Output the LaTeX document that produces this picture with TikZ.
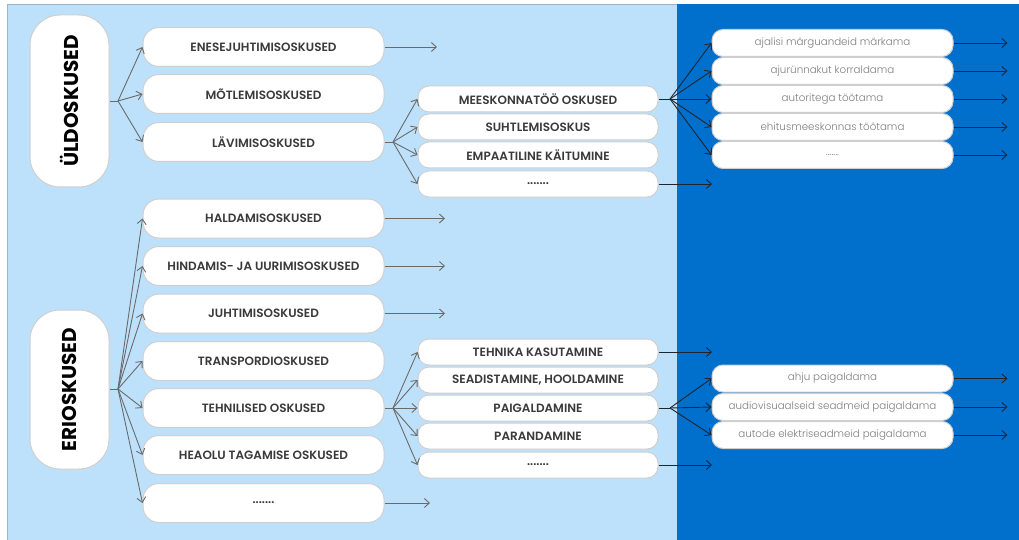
\documentclass[tikz,border=0pt]{standalone}
\usepackage{fontspec}
\usetikzlibrary{arrows.meta}
\setmainfont{Poppins}
\IfFontExistsTF{Poppins SemiBold}{\newfontfamily\capfont{Poppins SemiBold}\newcommand\capweight{}}{\newfontfamily\capfont{Poppins}\newcommand\capweight{\bfseries}}
\IfFontExistsTF{Poppins Light}{\newfontfamily\lightfont{Poppins Light}}{\newfontfamily\lightfont{Poppins}}
\newfontfamily\pillfont{Poppins}
\definecolor{lightpanel}{HTML}{BEE1FB}
\definecolor{darkpanel}{HTML}{0070CC}
\definecolor{paneledge}{HTML}{9FB4C6}
\definecolor{boxedge}{HTML}{CFCFCF}
\definecolor{captext}{HTML}{3A3A3A}
\definecolor{lighttext}{HTML}{7E7E7E}
\definecolor{arrgrey}{HTML}{6A6A6A}
\definecolor{arrdark}{HTML}{1E2430}
\tikzset{
  x=1pt, y=-1pt,
  pill/.style={draw=boxedge, line width=1pt, fill=white, rounded corners=30pt,
    minimum width=79pt, inner sep=0pt},
  bigbox/.style={draw=boxedge, line width=1pt, fill=white, rounded corners=16pt,
    minimum width=241pt, minimum height=39pt, inner sep=0pt,
    font=\capfont\capweight\fontsize{12}{14}\selectfont, text=captext},
  midbox/.style={draw=boxedge, line width=1pt, fill=white, rounded corners=11pt,
    minimum width=240pt, minimum height=26pt, inner sep=0pt,
    font=\capfont\capweight\fontsize{12}{14}\selectfont, text=captext},
  smallbox/.style={draw=boxedge, line width=1pt, fill=white, rounded corners=11pt,
    minimum width=241pt, minimum height=27pt, inner sep=0pt,
    font=\lightfont\fontsize{10.3}{12}\selectfont, text=lighttext},
  arr/.style={-{Straight Barb[length=5pt,width=9pt]}, line width=0.9pt, draw=arrgrey},
  arrd/.style={-{Straight Barb[length=5pt,width=9pt]}, line width=0.9pt, draw=arrdark},
  ln/.style={line width=0.9pt, draw=arrgrey},
  lnd/.style={line width=0.9pt, draw=arrdark},
}
\begin{document}
\begin{tikzpicture}
\useasboundingbox (0,0) rectangle (1019,540);
\fill[white] (0,0) rectangle (1019,540);
\draw[fill=lightpanel, draw=paneledge, line width=1pt] (7,5) rectangle (678,545);
\fill[darkpanel] (677,4) rectangle (1022,545);

% pills
\node[pill, minimum height=172pt] (ud) at (69.5,101) {};
\node[rotate=90, font=\pillfont\bfseries\fontsize{20}{22}\selectfont, text=black] at (ud.center) {ÜLDOSKUSED};
\node[pill, minimum height=159pt] (er) at (69.5,389.5) {};
\node[rotate=90, font=\pillfont\bfseries\fontsize{20}{22}\selectfont, text=black] at (er.center) {ERIOSKUSED};

% column 1
\node[bigbox] (a1) at (263.5,47) {ENESEJUHTIMISOSKUSED};
\node[bigbox] (a2) at (263.5,94) {MÕTLEMISOSKUSED};
\node[bigbox] (a3) at (263.5,142) {LÄVIMISOSKUSED};
\node[bigbox] (b1) at (263.5,218.5) {HALDAMISOSKUSED};
\node[bigbox] (b2) at (263.5,266) {HINDAMIS- JA UURIMISOSKUSED};
\node[bigbox] (b3) at (263.5,313.5) {JUHTIMISOSKUSED};
\node[bigbox] (b4) at (263.5,361) {TRANSPORDIOSKUSED};
\node[bigbox] (b5) at (263.5,408) {TEHNILISED OSKUSED};
\node[bigbox] (b6) at (263.5,455) {HEAOLU TAGAMISE OSKUSED};
\node[bigbox] (b7) at (263.5,503) {.......};

% column 2 upper
\node[midbox] (c1) at (538,99) {MEESKONNATÖÖ OSKUSED};
\node[midbox] (c2) at (538,127) {SUHTLEMISOSKUS};
\node[midbox] (c3) at (538,155) {EMPAATILINE KÄITUMINE};
\node[midbox] (c4) at (538,184) {.......};
% column 2 lower
\node[midbox] (d1) at (538,352) {TEHNIKA KASUTAMINE};
\node[midbox] (d2) at (538,380) {SEADISTAMINE, HOOLDAMINE};
\node[midbox] (d3) at (538,408) {PAIGALDAMINE};
\node[midbox] (d4) at (538,436) {PARANDAMINE};
\node[midbox] (d5) at (538,465) {.......};

% column 3 upper
\node[smallbox] (e1) at (832.5,43) {ajalisi märguandeid märkama};
\node[smallbox] (e2) at (832.5,71) {ajurünnakut korraldama};
\node[smallbox] (e3) at (832.5,99) {autoritega töötama};
\node[smallbox] (e4) at (832.5,127) {ehitusmeeskonnas töötama};
\node[smallbox] (e5) at (832.5,155) {.......};
% column 3 lower
\node[smallbox] (f1) at (832.5,378.5) {ahju paigaldama};
\node[smallbox] (f2) at (832.5,407) {audiovisuaalseid seadmeid paigaldama};
\node[smallbox] (f3) at (832.5,435) {autode elektriseadmeid paigaldama};

% fan points
\coordinate (fu) at (118,101);
\coordinate (fe) at (118,389);
\coordinate (fa3) at (393,142);
\coordinate (fb5) at (393,408);
\coordinate (fc1) at (670,99);
\coordinate (fd3) at (670,408);

% ÜLDOSKUSED fan
\draw[ln] (ud.east |- fu) -- (fu);
\foreach \n in {a1,a2,a3} \draw[arr] (fu) -- (\n.west);
% ERIOSKUSED fan
\draw[ln] (er.east |- fe) -- (fe);
\foreach \n in {b1,b2,b3,b4,b5,b6,b7} \draw[arr] (fe) -- (\n.west);
% LÄVIMISOSKUSED fan
\draw[ln] (a3.east) -- (fa3);
\foreach \n in {c1,c2,c3,c4} \draw[arr] (fa3) -- (\n.west);
% TEHNILISED fan
\draw[ln] (b5.east) -- (fb5);
\foreach \n in {d1,d2,d3,d4,d5} \draw[arr] (fb5) -- (\n.west);
% MEESKONNATÖÖ fan
\draw[lnd] (c1.east) -- (fc1);
\foreach \n in {e1,e2,e3,e4,e5} \draw[arrd] (fc1) -- (\n.west);
% PAIGALDAMINE fan
\draw[lnd] (d3.east) -- (fd3);
\foreach \n in {f1,f2,f3} \draw[arrd] (fd3) -- (\n.west);

% open arrows from column 1
\coordinate (ta1) at (437,47);
\coordinate (tb1) at (445,218.5);
\coordinate (tb2) at (445,266);
\coordinate (tb3) at (445,313.5);
\coordinate (tb7) at (430,503);
\draw[arr] (a1.east) -- (ta1);
\draw[arr] (b1.east) -- (tb1);
\draw[arr] (b2.east) -- (tb2);
\draw[arr] (b3.east) -- (tb3);
\draw[arr] (b7.east) -- (tb7);

% open arrows from column 2
\coordinate (tc4) at (712,184);
\coordinate (td1) at (712,352);
\coordinate (td5) at (712,465);
\draw[arrd] (c4.east) -- (tc4);
\draw[arrd] (d1.east) -- (td1);
\draw[arrd] (d5.east) -- (td5);

% open arrows from column 3
\foreach \n in {e1,e2,e3,e4,e5,f1,f2,f3} {
  \coordinate (t\n) at ([xshift=54pt]\n.east);
  \draw[arrd] (\n.east) -- (t\n);
}
\end{tikzpicture}
\end{document}
